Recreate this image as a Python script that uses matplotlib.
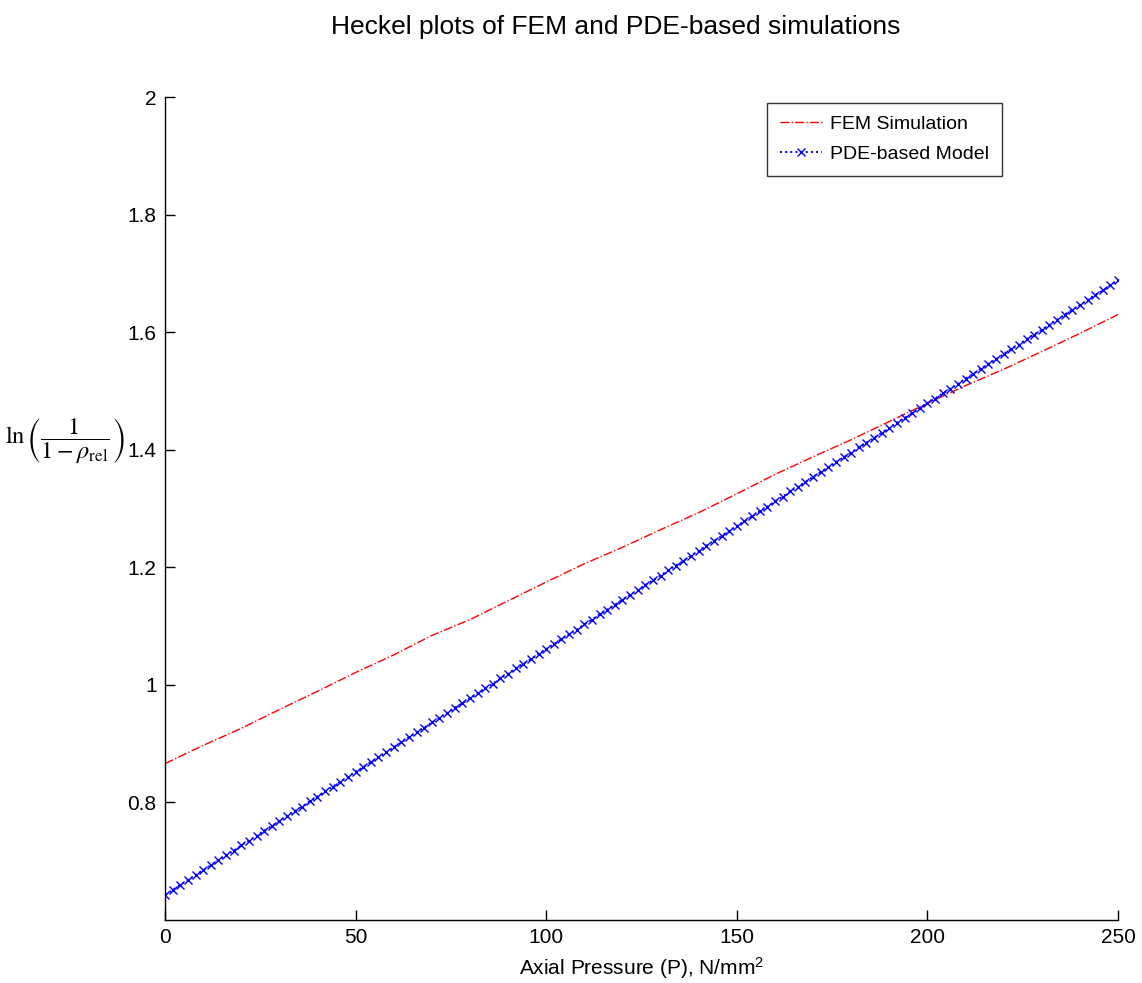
import numpy as np
import matplotlib
matplotlib.use('Agg')
import matplotlib.pyplot as plt

plt.rcParams['font.family'] = ['Liberation Sans', 'DejaVu Sans']
plt.rcParams['mathtext.fontset'] = 'stix'

# FEM simulation, read every 10 N/mm^2
p_fem = [0, 10, 20, 30, 40, 50, 60, 70, 80, 90, 100, 110, 120, 130, 140,
         150, 160, 170, 180, 190, 200, 210, 220, 230, 240, 250]
heckel_fem = [0.866, 0.897, 0.926, 0.958, 0.989, 1.021, 1.051, 1.084, 1.111, 1.143,
              1.175, 1.206, 1.234, 1.264, 1.293, 1.325, 1.358, 1.388, 1.417, 1.448,
              1.479, 1.509, 1.537, 1.567, 1.598, 1.630]

# PDE-based model, every 2 N/mm^2
p_pde = np.arange(0, 251, 2)
heckel_pde = [
    0.643, 0.651, 0.660, 0.668, 0.676, 0.685, 0.693, 0.702, 0.710, 0.718,
    0.727, 0.735, 0.743, 0.752, 0.760, 0.768, 0.777, 0.785, 0.793, 0.802,
    0.810, 0.819, 0.827, 0.835, 0.844, 0.852, 0.860, 0.869, 0.877, 0.885,
    0.894, 0.902, 0.911, 0.919, 0.927, 0.936, 0.944, 0.952, 0.961, 0.969,
    0.977, 0.986, 0.994, 1.002, 1.011, 1.019, 1.028, 1.036, 1.044, 1.053,
    1.061, 1.069, 1.078, 1.086, 1.094, 1.103, 1.111, 1.120, 1.128, 1.136,
    1.145, 1.153, 1.161, 1.170, 1.178, 1.186, 1.195, 1.203, 1.211, 1.220,
    1.228, 1.237, 1.245, 1.253, 1.262, 1.270, 1.278, 1.287, 1.295, 1.303,
    1.312, 1.320, 1.329, 1.337, 1.345, 1.354, 1.362, 1.370, 1.379, 1.387,
    1.395, 1.404, 1.412, 1.420, 1.429, 1.437, 1.446, 1.454, 1.462, 1.471,
    1.479, 1.487, 1.496, 1.504, 1.512, 1.521, 1.529, 1.538, 1.546, 1.554,
    1.563, 1.571, 1.579, 1.588, 1.596, 1.604, 1.613, 1.621, 1.630, 1.638,
    1.646, 1.655, 1.663, 1.671, 1.680, 1.688]

xticks = [0, 50, 100, 150, 200, 250]
yticks = [0.8, 1.0, 1.2, 1.4, 1.6, 1.8, 2.0]
ytick_labels = ['0.8', '1', '1.2', '1.4', '1.6', '1.8', '2']

fig = plt.figure(figsize=(11.42, 9.83), dpi=100)
ax = fig.add_axes([0.1445, 0.0641, 0.8345, 0.8372])

ax.plot(p_fem, heckel_fem, color='red', linestyle='-.', linewidth=1.0,
        label='FEM Simulation')
ax.plot(p_pde, heckel_pde, color='blue', linestyle=':', linewidth=1.4,
        marker='x', markersize=5.5, markeredgewidth=1.0, label='PDE-based Model')

ax.set_xlim(0, 250)
ax.set_ylim(0.6, 2.0)
ax.set_xticks(xticks)
ax.set_xticklabels([str(t) for t in xticks])
ax.set_yticks(yticks)
ax.set_yticklabels(ytick_labels)
ax.tick_params(direction='in', length=7, width=1, labelsize=15, pad=6)
ax.spines['top'].set_visible(False)
ax.spines['right'].set_visible(False)
for s in ['left', 'bottom']:
    ax.spines[s].set_linewidth(1.0)

ax.set_xlabel(r'Axial Pressure (P), N/mm$^{\mathregular{2}}$', fontsize=15, labelpad=6)

fig.text(0.004, 0.552, r'$\ln\left(\dfrac{1}{1-\rho_{\mathrm{rel}}}\right)$',
         fontsize=17.5, ha='left', va='center')

fig.text(0.539, 0.9725, 'Heckel plots of FEM and PDE-based simulations',
         fontsize=19, ha='center', va='center')

leg = ax.legend(loc='upper right', bbox_to_anchor=(0.878, 0.993), fontsize=14,
                frameon=True, fancybox=False, edgecolor='black', borderaxespad=0,
                handlelength=2.2, handletextpad=0.4, borderpad=0.65, labelspacing=0.65)
leg.get_frame().set_linewidth(1.0)

fig.savefig('out.png', dpi=100)
